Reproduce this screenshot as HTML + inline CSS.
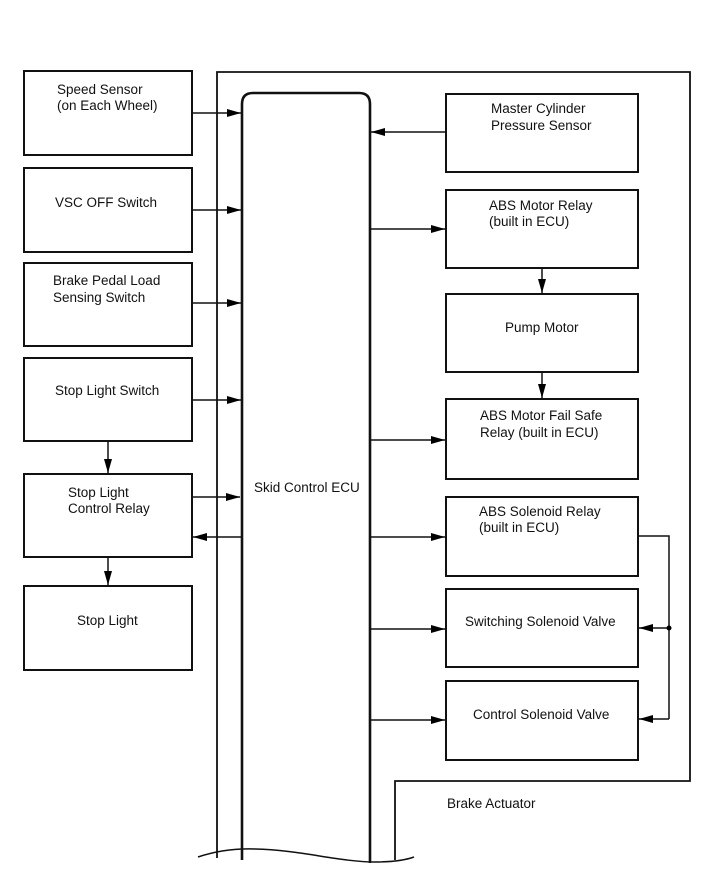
<!DOCTYPE html>
<html><head><meta charset="utf-8"><style>
html,body{margin:0;padding:0;background:#fff;}
svg{display:block;}
text{font-family:"Liberation Sans",Arial,sans-serif;font-size:13.5px;fill:#111;}
</style></head><body>
<svg width="713" height="882" viewBox="0 0 713 882" xmlns="http://www.w3.org/2000/svg">
<defs>
<marker id="a" markerWidth="14" markerHeight="8" refX="14" refY="4" orient="auto" markerUnits="userSpaceOnUse">
<path d="M0,0 L14,4 L0,8 z" fill="#000"/></marker>
</defs>
<g fill="none" stroke="#111" stroke-width="2">
<path d="M217,858 L217,72 L690,72 L690,781 L395,781 L395,860" stroke-width="1.8"/>
<path d="M242,860 L242,104 Q242,93 253,93 L359,93 Q370,93 370,104 L370,863" stroke-width="2.6"/>
<rect x="24" y="71" width="168" height="84"/>
<rect x="24" y="168" width="168" height="84"/>
<rect x="24" y="263" width="168" height="83"/>
<rect x="24" y="358" width="168" height="83"/>
<rect x="24" y="474" width="168" height="83"/>
<rect x="24" y="586" width="168" height="84"/>
<rect x="446" y="94" width="192" height="78"/>
<rect x="446" y="190" width="192" height="78"/>
<rect x="446" y="294" width="192" height="78"/>
<rect x="446" y="399" width="192" height="80"/>
<rect x="446" y="497" width="192" height="79"/>
<rect x="446" y="589" width="192" height="78"/>
<rect x="446" y="681" width="192" height="79"/>
</g>
<g stroke="#111" stroke-width="1.5" fill="none">
<line x1="192" y1="113" x2="241" y2="113" marker-end="url(#a)"/>
<line x1="192" y1="210" x2="241" y2="210" marker-end="url(#a)"/>
<line x1="192" y1="303" x2="241" y2="303" marker-end="url(#a)"/>
<line x1="192" y1="400" x2="241" y2="400" marker-end="url(#a)"/>
<line x1="192" y1="497" x2="240" y2="497" marker-end="url(#a)"/>
<line x1="242" y1="537" x2="193" y2="537" marker-end="url(#a)"/>
<line x1="108" y1="441" x2="108" y2="473" marker-end="url(#a)"/>
<line x1="108" y1="557" x2="108" y2="585" marker-end="url(#a)"/>
<line x1="446" y1="132" x2="371" y2="132" marker-end="url(#a)"/>
<line x1="370" y1="229" x2="445" y2="229" marker-end="url(#a)"/>
<line x1="370" y1="440" x2="445" y2="440" marker-end="url(#a)"/>
<line x1="370" y1="537" x2="445" y2="537" marker-end="url(#a)"/>
<line x1="370" y1="629" x2="445" y2="629" marker-end="url(#a)"/>
<line x1="370" y1="720" x2="445" y2="720" marker-end="url(#a)"/>
<line x1="542" y1="268" x2="542" y2="293" marker-end="url(#a)"/>
<line x1="542" y1="372" x2="542" y2="398" marker-end="url(#a)"/>
<path d="M638,536 L669,536 L669,719"/>
<line x1="669" y1="628" x2="639" y2="628" marker-end="url(#a)"/>
<line x1="669" y1="719" x2="639" y2="719" marker-end="url(#a)"/>
<path d="M198,857 Q225,848 255,849 C300,850 340,862 375,862 Q400,862 414,857"/>
</g>
<circle cx="669" cy="628" r="2.5" fill="#000"/>
<text x="57" y="94">Speed Sensor</text>
<text x="57" y="110">(on Each Wheel)</text>
<text x="55" y="207">VSC OFF Switch</text>
<text x="53" y="285">Brake Pedal Load</text>
<text x="53" y="302">Sensing Switch</text>
<text x="55" y="395">Stop Light Switch</text>
<text x="68" y="497">Stop Light</text>
<text x="68" y="513">Control Relay</text>
<text x="77" y="625">Stop Light</text>
<text x="254" y="492">Skid Control ECU</text>
<text x="491" y="113">Master Cylinder</text>
<text x="491" y="130">Pressure Sensor</text>
<text x="489" y="210">ABS Motor Relay</text>
<text x="489" y="226">(built in ECU)</text>
<text x="505" y="332">Pump Motor</text>
<text x="480" y="420">ABS Motor Fail Safe</text>
<text x="480" y="437">Relay (built in ECU)</text>
<text x="479" y="516">ABS Solenoid Relay</text>
<text x="479" y="532">(built in ECU)</text>
<text x="465" y="626">Switching Solenoid Valve</text>
<text x="473" y="719">Control Solenoid Valve</text>
<text x="447" y="808">Brake Actuator</text>
</svg>
</body></html>
